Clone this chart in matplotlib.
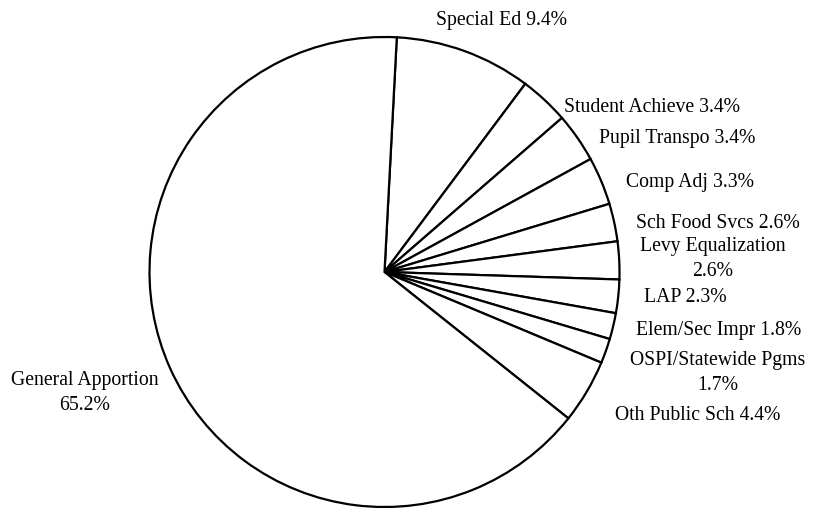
import matplotlib
matplotlib.use("Agg")
import matplotlib.pyplot as plt

categories = ["Special Ed", "Student Achieve", "Pupil Transpo", "Comp Adj",
              "Sch Food Svcs", "Levy Equalization", "LAP", "Elem/Sec Impr",
              "OSPI/Statewide Pgms", "Oth Public Sch", "General Apportion"]
values = [9.4, 3.4, 3.4, 3.3, 2.6, 2.6, 2.3, 1.8, 1.7, 4.4, 65.2]
label_texts = ["Special Ed 9.4%", "Student Achieve 3.4%", "Pupil Transpo 3.4%",
               "Comp Adj 3.3%", "Sch Food Svcs 2.6%", "Levy Equalization\n2.6%",
               "LAP 2.3%", "Elem/Sec Impr 1.8%", "OSPI/Statewide Pgms\n1.7%",
               "Oth Public Sch 4.4%", "General Apportion\n65.2%"]

# label positions in pixel coordinates (x, y from top)
label_pos = [(502, 21), (652, 108), (677, 139), (690, 183), (718, 224),
             (713, 259), (685, 298), (719, 330), (718, 373), (698, 416),
             (85, 393)]

W, H = 817, 508
fig = plt.figure(figsize=(W / 100, H / 100), dpi=100)
ax = fig.add_axes([0, 0, 1, 1])
ax.set_xlim(0, W)
ax.set_ylim(0, H)
ax.set_aspect("equal")
ax.axis("off")

cx, cy, r = 384.5, H - 272, 235
ax.pie(values, center=(cx, cy), radius=r, startangle=87.0, counterclock=False,
       colors=["white"] * len(values),
       wedgeprops=dict(edgecolor="black", linewidth=1.6), frame=False)
ax.set_xlim(0, W)
ax.set_ylim(0, H)
ax.axis("off")

for txt, (x, y) in zip(label_texts, label_pos):
    ax.text(x, H - y, txt, ha="center", va="center", fontsize=14.2,
            family="Liberation Serif", linespacing=1.4, color="black")

fig.savefig("out.png", dpi=100, facecolor="white")
